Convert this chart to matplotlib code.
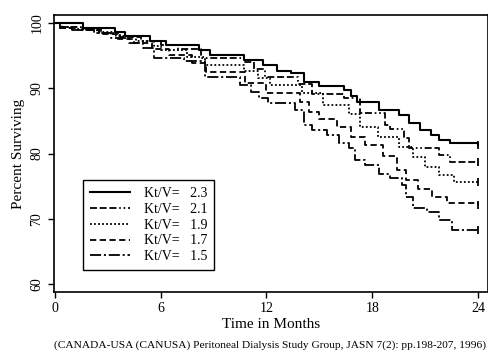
import matplotlib
matplotlib.use("Agg")
from matplotlib import pyplot as plt

plt.rcParams['font.family'] = ['Liberation Serif', 'DejaVu Serif']
plt.rcParams['lines.scale_dashes'] = False

# survival step curves (months, percent surviving)
t_23 = [0, 1.6, 3.4, 4.0, 5.4, 6.3, 8.2, 8.8, 10.7, 11.8, 12.6, 13.4, 14.1, 15.0,
        16.4, 16.8, 17.1, 18.4, 19.5, 20.1, 20.7, 21.3, 21.8, 22.4, 24.0]
s_23 = [100, 99.2, 98.6, 98.0, 97.2, 96.6, 95.9, 95.1, 94.3, 93.6, 92.6, 92.3, 91.0, 90.3,
        89.7, 88.8, 87.9, 86.7, 85.9, 84.7, 83.6, 82.8, 82.1, 81.6, 81.3]

t_21 = [0, 0.4, 1.5, 2.6, 3.7, 4.9, 6.0, 7.0, 8.3, 10.7, 11.3, 11.9, 13.8, 14.6,
        16.4, 17.3, 18.7, 19.0, 19.8, 20.1, 21.8, 22.4, 24.0]
s_21 = [100, 99.4, 99.0, 98.5, 97.9, 97.3, 96.6, 96.0, 94.6, 94.0, 93.0, 91.7, 90.7, 89.1,
        88.5, 86.2, 84.4, 83.8, 82.4, 80.8, 79.8, 78.7, 78.7]

t_19 = [0, 0.3, 1.2, 2.4, 3.5, 4.6, 5.6, 6.0, 7.5, 8.5, 10.7, 11.5, 12.2, 14.0,
        15.2, 16.7, 17.3, 18.3, 19.5, 20.3, 21.0, 21.8, 22.6, 24.0]
s_19 = [100, 99.4, 99.1, 98.6, 98.0, 97.3, 96.5, 95.9, 94.8, 93.6, 92.6, 91.5, 90.5, 89.2,
        87.4, 86.0, 84.1, 82.6, 81.0, 79.4, 78.0, 76.7, 75.6, 75.6]

t_17 = [0, 0.3, 1.3, 2.5, 3.6, 4.5, 5.5, 6.5, 7.8, 8.6, 10.8, 12.0, 13.9, 14.4,
        15.0, 16.0, 16.8, 17.6, 18.6, 19.4, 19.9, 20.6, 21.4, 22.2, 24.0]
s_17 = [100, 99.3, 98.9, 98.3, 97.6, 96.9, 96.0, 95.1, 93.9, 92.5, 90.8, 89.3, 87.9, 86.4,
        85.3, 84.0, 82.5, 81.3, 79.7, 77.5, 75.9, 74.6, 73.3, 72.5, 72.1]

t_15 = [0, 0.3, 1.0, 2.2, 3.2, 4.2, 5.0, 5.6, 7.3, 8.5, 10.5, 11.1, 11.6, 12.1, 13.6,
        14.1, 14.6, 15.4, 16.1, 16.7, 17.0, 17.6, 18.4, 19.0, 19.7, 19.9, 20.3, 21.1,
        21.8, 22.5, 24.0]
s_15 = [100, 99.3, 98.9, 98.4, 97.7, 96.9, 96.1, 94.6, 94.1, 91.7, 90.5, 89.5, 88.5, 87.7, 86.7,
        84.4, 83.6, 82.8, 81.6, 80.8, 79.0, 78.2, 76.9, 76.2, 75.2, 73.3, 71.6, 71.0,
        69.8, 68.3, 68.3]

labels = ['2.3', '2.1', '1.9', '1.7', '1.5']
x_ticks = [0, 6, 12, 18, 24]
y_ticks = [60, 70, 80, 90, 100]

curves = [(t_23, s_23, '-'),
          (t_21, s_21, (0, (5, 2, 5, 2, 5, 2, 1.2, 2, 1.2, 2))),
          (t_19, s_19, (0, (1.3, 1.6))),
          (t_17, s_17, (0, (4.5, 2.5))),
          (t_15, s_15, (0, (8, 2, 1.5, 2)))]

fig = plt.figure(figsize=(4.89, 3.51), dpi=100)
ax = fig.add_axes([0.110, 0.168, 0.888, 0.789])

for (t, s, ls), lab in zip(curves, labels):
    lw = 1.5 if ls == '-' else 1.3
    ax.plot(t, s, color='black', lw=lw, linestyle=ls, drawstyle='steps-post',
            label='Kt/V=   ' + lab)
    ax.plot(t[-1], s[-1], marker='|', color='black', markersize=6, mew=1.3)

ax.set_xlim(-0.05, 24.55)
ax.set_ylim(58.8, 101.2)
ax.set_xticks(x_ticks)
ax.set_yticks(y_ticks)
ax.tick_params(direction='out', length=4, width=1, labelsize=10)
for lab in ax.get_yticklabels():
    lab.set_rotation(90)
    lab.set_va('center')
for sp in ax.spines.values():
    sp.set_linewidth(1.2)

ax.set_xlabel('Time in Months', fontsize=11, labelpad=2)
ax.set_ylabel('Percent Surviving', fontsize=11, labelpad=4)

leg = ax.legend(loc='upper left', bbox_to_anchor=(0.067, 0.404), borderaxespad=0,
                fontsize=10, handlelength=2.9, fancybox=False, framealpha=1,
                edgecolor='black', labelspacing=0.2, handletextpad=1.0,
                borderpad=0.5)
leg.get_frame().set_linewidth(1.0)

fig.text(0.552, 0.004, '(CANADA-USA (CANUSA) Peritoneal Dialysis Study Group, JASN 7(2): pp.198-207, 1996)',
         ha='center', va='bottom', fontsize=8.2)

fig.savefig('out.png', dpi=100)
